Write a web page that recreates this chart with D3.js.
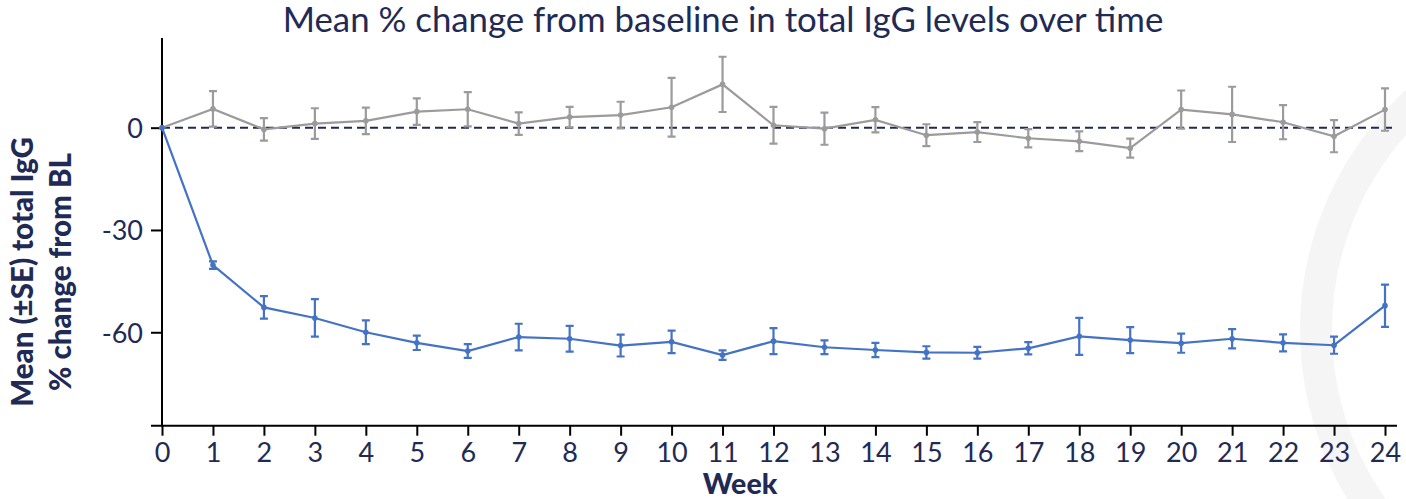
<!DOCTYPE html>
<html>
<head>
<meta charset="utf-8">
<script src="https://d3js.org/d3.v7.min.js"></script>
<style>
  body { margin: 0; background: #fff; }
  text { font-family: Lato, "Open Sans", sans-serif; }
</style>
</head>
<body>
<div id="my_dataviz"></div>
<script>
// data
const weeks = d3.range(0, 25);
const placeboMean = [0, 5.5, -0.5, 1.2, 2.0, 4.7, 5.4, 1.2, 3.1, 3.7, 6.0, 12.7, 0.7, -0.3, 2.3, -2.2, -1.3, -3.1, -4.0, -6.0, 5.3, 3.9, 1.6, -2.5, 5.3];
const placeboSE = [0, 5.2, 3.3, 4.5, 3.9, 3.9, 5.0, 3.3, 3.0, 3.9, 8.6, 8.1, 5.4, 4.7, 3.7, 3.2, 2.9, 2.7, 2.9, 2.8, 5.6, 8.1, 5.0, 4.7, 6.2];
const activeMean = [0, -40.3, -52.7, -55.8, -60.0, -63.1, -65.5, -61.4, -61.9, -63.9, -62.8, -66.7, -62.6, -64.4, -65.2, -65.9, -66.0, -64.7, -61.2, -62.3, -63.2, -61.9, -63.1, -63.8, -52.2];
const activeSE = [0, 1.1, 3.3, 5.5, 3.5, 2.1, 2.0, 3.9, 3.8, 3.2, 3.3, 1.4, 3.8, 2.0, 2.1, 1.8, 1.7, 1.8, 5.4, 3.8, 2.8, 2.8, 2.5, 2.5, 6.2];
const yTicks = [0, -30, -60];
const yDomain = [-87.4, 26.3];

const W = 1406, H = 499;
const navy = "#1f2a55";

const svg = d3.select("#my_dataviz")
  .append("svg")
  .attr("width", W)
  .attr("height", H);

// faint watermark ring in the bottom right corner
svg.append("circle")
  .attr("cx", 1625).attr("cy", 330).attr("r", 309)
  .attr("fill", "none")
  .attr("stroke", "#f5f5f5")
  .attr("stroke-width", 32);

const x = d3.scaleLinear().domain([0, 24]).range([162, 1385]);
const y = d3.scaleLinear().domain(yDomain).range([425.7, 38]);

// title
svg.append("text")
  .attr("x", 723).attr("y", 32)
  .attr("text-anchor", "middle")
  .attr("fill", navy)
  .style("font-size", "34.8px")
  .text("Mean % change from baseline in total IgG levels over time");

// zero reference line
svg.append("line")
  .attr("x1", x(0)).attr("x2", 1396)
  .attr("y1", y(0)).attr("y2", y(0))
  .attr("stroke", navy)
  .attr("stroke-width", 2)
  .attr("stroke-dasharray", "8,5");

// y axis
const yAxis = svg.append("g")
  .attr("transform", `translate(${x(0)},0)`)
  .call(d3.axisLeft(y).tickValues(yTicks).tickSize(11).tickPadding(8).tickFormat(function(d) { return String(d); }));
yAxis.select(".domain").remove();
yAxis.append("line")
  .attr("y1", y.range()[1]).attr("y2", y.range()[0] + 1)
  .attr("stroke", "#000").attr("stroke-width", 2);
yAxis.selectAll(".tick line").attr("stroke", "#000").attr("stroke-width", 2);
yAxis.selectAll(".tick text")
  .attr("fill", navy)
  .style("font-size", "27px")
  .style("font-family", "Lato, sans-serif")
  .attr("dy", "0.36em");

// x axis
const xAxis = svg.append("g")
  .attr("transform", `translate(0,${y.range()[0]})`)
  .call(d3.axisBottom(x).tickValues(weeks).tickSize(10).tickPadding(7).tickFormat(function(d) { return String(d); }));
xAxis.select(".domain").remove();
xAxis.append("line")
  .attr("x1", 151).attr("x2", 1397)
  .attr("stroke", "#000").attr("stroke-width", 2);
xAxis.selectAll(".tick line").attr("stroke", "#000").attr("stroke-width", 2);
xAxis.selectAll(".tick text")
  .attr("fill", navy)
  .style("font-size", "27px")
  .style("font-family", "Lato, sans-serif");

// axis titles
svg.append("text")
  .attr("x", 740).attr("y", 494)
  .attr("text-anchor", "middle")
  .attr("fill", navy)
  .style("font-size", "28.5px")
  .style("font-weight", "900")
  .text("Week");

const yLab = svg.append("text")
  .attr("transform", "translate(0,272) rotate(-90)")
  .attr("text-anchor", "middle")
  .attr("fill", navy)
  .style("font-size", "29.5px")
  .style("font-weight", "900");
yLab.append("tspan").attr("x", 0).attr("y", 33).text("Mean (±SE) total IgG");
yLab.append("tspan").attr("x", 0).attr("y", 71).text("% change from BL");

// series
const series = [
  {mean: placeboMean, se: placeboSE, color: "#9b9b9b"},
  {mean: activeMean, se: activeSE, color: "#4472c4"}
];

const line = d3.line()
  .x(function(d, i) { return x(weeks[i]); })
  .y(function(d) { return y(d); });

series.forEach(function(s) {
  const g = svg.append("g");
  const pts = weeks.map(function(w, i) { return {w: w, m: s.mean[i], e: s.se[i]}; })
  const bars = pts.filter(function(d) { return d.e > 0; });

  g.append("path")
    .datum(s.mean)
    .attr("d", line)
    .attr("fill", "none")
    .attr("stroke", s.color)
    .attr("stroke-width", 2.2);

  g.selectAll(".eb")
    .data(bars)
    .enter()
    .append("path")
      .attr("d", function(d) {
        const cx = x(d.w), t = y(d.m + d.e), b = y(d.m - d.e);
        return `M${cx},${t}V${b}M${cx - 4},${t}H${cx + 4}M${cx - 4},${b}H${cx + 4}`;
      })
      .attr("fill", "none")
      .attr("stroke", s.color)
      .attr("stroke-width", 2.2);

  g.selectAll("circle")
    .data(pts)
    .enter()
    .append("circle")
      .attr("cx", function(d) { return x(d.w); })
      .attr("cy", function(d) { return y(d.m); })
      .attr("r", 2.8)
      .attr("fill", s.color);
});
</script>
</body>
</html>
